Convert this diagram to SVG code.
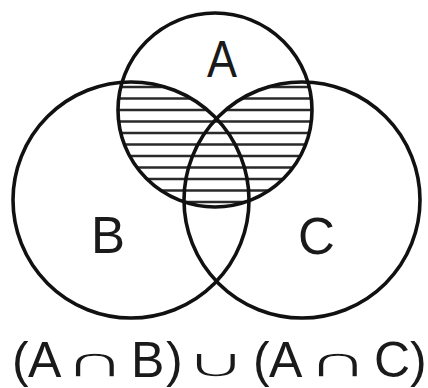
<svg xmlns="http://www.w3.org/2000/svg" width="428" height="388" viewBox="0 0 428 388">
  <style>
    .set { fill: none; stroke: #111; stroke-width: 3.6; }
    .hatch { stroke: #2a2a2a; stroke-width: 2.3; }
    .lbl { font-family: "Liberation Sans", Arial, sans-serif; font-size: 51px; fill: #1a1a1a; }
    .expr { font-family: "Liberation Sans", Arial, sans-serif; font-size: 50px; fill: #1a1a1a; }
    .op { font-family: "DejaVu Sans", sans-serif; font-size: 41px; fill: #1a1a1a; stroke: #ffffff; stroke-width: 1.4; }
  </style>
  <defs>
    <clipPath id="clipA"><circle cx="215" cy="110" r="97"/></clipPath>
    <clipPath id="clipBC">
      <circle cx="131" cy="200" r="118"/>
      <circle cx="302" cy="200" r="118"/>
    </clipPath>
  </defs>
  <rect width="428" height="388" fill="#ffffff"/>
  <g id="shading" clip-path="url(#clipA)">
    <g clip-path="url(#clipBC)">
      <g class="hatch">
        <line x1="100" y1="87" x2="330" y2="87"/>
        <line x1="100" y1="98.5" x2="330" y2="98.5"/>
        <line x1="100" y1="110" x2="330" y2="110"/>
        <line x1="100" y1="121.5" x2="330" y2="121.5"/>
        <line x1="100" y1="133" x2="330" y2="133"/>
        <line x1="100" y1="144.5" x2="330" y2="144.5"/>
        <line x1="100" y1="156" x2="330" y2="156"/>
        <line x1="100" y1="167.5" x2="330" y2="167.5"/>
        <line x1="100" y1="179" x2="330" y2="179"/>
        <line x1="100" y1="190.5" x2="330" y2="190.5"/>
        <line x1="100" y1="202" x2="330" y2="202"/>
      </g>
    </g>
  </g>
  <g id="setB">
    <circle class="set" cx="131" cy="200" r="118"/>
    <text class="lbl" x="91" y="253">B</text>
  </g>
  <g id="setC">
    <circle class="set" cx="302" cy="200" r="118"/>
    <text class="lbl" x="298" y="254">C</text>
  </g>
  <g id="setA">
    <circle class="set" cx="215" cy="110" r="97"/>
    <text class="lbl" x="207" y="77" textLength="30" lengthAdjust="spacingAndGlyphs">A</text>
  </g>
  <g id="expression">
    <text class="expr" y="377"><tspan x="12">(</tspan><tspan x="28">A</tspan><tspan x="131">B</tspan><tspan x="166">)</tspan><tspan x="253">(</tspan><tspan x="269">A</tspan><tspan x="374">C</tspan><tspan x="410">)</tspan></text>
    <text class="op" transform="translate(63 377) scale(2.1 1)">∩</text>
    <text class="op" transform="translate(184 377) scale(2.1 1)">∪</text>
    <text class="op" transform="translate(306 377) scale(2.1 1)">∩</text>
  </g>
</svg>
